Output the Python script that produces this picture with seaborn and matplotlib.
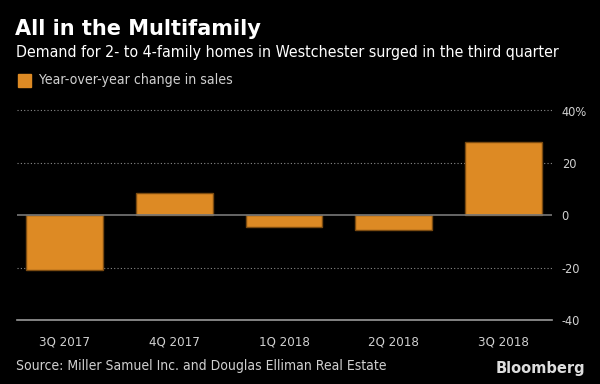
import matplotlib
matplotlib.use("Agg")
import matplotlib.pyplot as plt
import seaborn as sns
import pandas as pd

categories = ["3Q 2017", "4Q 2017", "1Q 2018", "2Q 2018", "3Q 2018"]
values = [-21.0, 8.6, -4.5, -5.5, 28.0]
yticks = [-40, -20, 0, 20, 40]
ytick_labels = ["-40", "-20", "0", "20", "40%"]

title = "All in the Multifamily"
subtitle = "Demand for 2- to 4-family homes in Westchester surged in the third quarter"
legend_label = "Year-over-year change in sales"
source = "Source: Miller Samuel Inc. and Douglas Elliman Real Estate"

sns.set_theme(style="dark")
plt.rcParams['font.family'] = ['DejaVu Sans']
plt.rcParams['font.stretch'] = 'condensed'

BG = "#000000"
BAR = "#DD8A24"
EDGE = "#7a4a10"
GRID = "#8a8a8a"
TXT = "#d0d0d0"

fig = plt.figure(figsize=(6, 3.84), dpi=100, facecolor=BG)
ax = fig.add_axes([17/600, 1 - 320/384, (552-17)/600, (320-110.5)/384])
ax.set_facecolor(BG)

df = pd.DataFrame({"quarter": categories, "change": values})
sns.barplot(data=df, x="quarter", y="change", color=BAR, width=0.7,
            edgecolor=EDGE, linewidth=1, saturation=1, ax=ax, zorder=3)

ax.set_ylim(-40, 40)
ax.set_xlim(-0.43, 4.44)
ax.set_yticks(yticks)
ax.set_yticklabels(ytick_labels)
ax.yaxis.tick_right()
ax.tick_params(axis="y", length=0, pad=7, labelsize=9.2, labelcolor=TXT)
ax.tick_params(axis="x", length=4, width=1, color="#999999", pad=7, labelsize=9.5,
               labelcolor=TXT, direction="out")
ax.set_xlabel("")
ax.set_ylabel("")
ax.grid(False)
for y in [20, 40, -20]:
    ax.axhline(y, color=GRID, linestyle=(0, (1, 2)), linewidth=0.8, zorder=1,
               clip_on=False)
ax.axhline(0, color="#777777", linewidth=1.2, zorder=4)
for s in ["top", "left", "right"]:
    ax.spines[s].set_visible(False)
ax.spines["bottom"].set_color("#999999")
ax.spines["bottom"].set_linewidth(1.2)

fig.text(15/600, 1 - 29/384, title, color="white", fontsize=15, fontweight="bold",
         va="center", fontstretch="normal")
fig.text(16/600, 1 - 53/384, subtitle, color="white", fontsize=11.4, va="center")
fig.patches.append(plt.Rectangle((18/600, 1 - 87/384), 13/600, 13/384,
                                 transform=fig.transFigure, color=BAR, figure=fig))
fig.text(39/600, 1 - 80/384, legend_label, color=TXT, fontsize=10.1, va="center")
fig.text(16/600, 1 - 366/384, source, color=TXT, fontsize=10, va="center")
fig.text(585/600, 1 - 368/384, "Bloomberg", color="#dddddd", fontsize=10.5,
         fontweight="bold", ha="right", va="center", fontstretch="normal")

fig.savefig("out.png", dpi=100, facecolor=BG)
